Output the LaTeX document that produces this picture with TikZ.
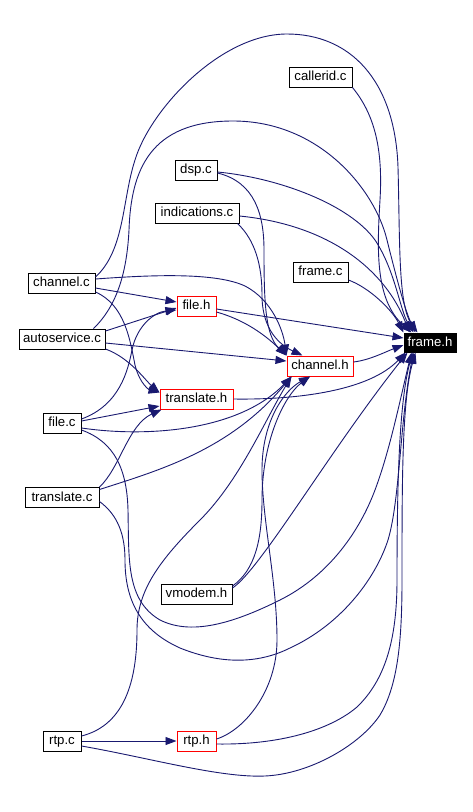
\documentclass[tikz,border=0pt]{standalone}
\usepackage{fontspec}
\setmainfont{Liberation Sans}
\usetikzlibrary{arrows.meta}
\definecolor{edgeblue}{HTML}{191970}
\begin{document}
\begin{tikzpicture}[x=1pt,y=-1pt,
  box/.style={draw=black,line width=1pt,inner sep=0pt,minimum height=20pt,font=\fontsize{13.2}{15}\selectfont,text height=9.5pt,text depth=2.5pt},
  redbox/.style={box,draw=red},
  mainbox/.style={box,fill=black,text=white,minimum height=19pt},
  edge/.style={draw=edgeblue,line width=0.9pt,-{Triangle[length=11pt,width=8pt]}}]
\path[use as bounding box,fill=white] (0,0) rectangle (473,812);
% nodes
\node[box,minimum width=63pt] (cal) at (320.5,77) {callerid.c};
\node[box,minimum width=42pt] (dsp) at (196,170) {dsp.c};
\node[box,minimum width=84pt] (ind) at (197,213) {indications.c};
\node[box,minimum width=55pt] (frc) at (320.5,272) {frame.c};
\node[box,minimum width=67pt] (chc) at (61.5,283) {channel.c};
\node[redbox,minimum width=39pt] (fih) at (196.5,306) {file.h};
\node[box,minimum width=86pt] (aus) at (62,339) {autoservice.c};
\node[mainbox,minimum width=52pt] (frh) at (430,342.5) {frame.h};
\node[redbox,minimum width=66pt] (chh) at (320,366) {channel.h};
\node[redbox,minimum width=73pt] (trh) at (196.5,399) {translate.h};
\node[box,minimum width=38pt] (fic) at (62,423) {file.c};
\node[box,minimum width=74pt] (trc) at (62,497.5) {translate.c};
\node[box,minimum width=71pt] (vmh) at (196.5,594) {vmodem.h};
\node[box,minimum width=38pt] (rtc) at (62,741) {rtp.c};
\node[redbox,minimum width=39pt] (rth) at (196.5,741) {rtp.h};
% edges
\draw[edge] (cal.south east) .. controls (375,115) and (383,150) .. (380,200) .. controls (377,250) and (375,300) .. ([xshift=8pt]frh.north west);
\draw[edge] ([xshift=-12pt]aus.north east) .. controls (118,305) and (127,270) .. (129,230) .. controls (131,170) and (150,121) .. (233,121) .. controls (320,121) and (375,190) .. (387,240) .. controls (397,280) and (405,310) .. ([xshift=12pt]frh.north west);
\draw[edge] ([yshift=6pt]chc.east) .. controls (125,250) and (122,200) .. (135,160) .. controls (150,110) and (220,34) .. (287,34) .. controls (350,34) and (395,80) .. (398,167) .. controls (400,240) and (398,305) .. ([xshift=14pt]frh.north west);
\draw[edge] ([yshift=-2pt]dsp.east) .. controls (280,178) and (350,205) .. (375,240) .. controls (395,270) and (400,310) .. ([xshift=10pt]frh.north west);
\draw[edge] ([yshift=-3pt]dsp.east) .. controls (255,182) and (264,215) .. (264,250) .. controls (264,300) and (265,335) .. (chh.north west);
\draw[edge] ([yshift=-3pt]ind.east) .. controls (330,225) and (385,270) .. ([xshift=6pt]frh.north west);
\draw[edge] ([xshift=-2pt]ind.south east) .. controls (255,240) and (262,265) .. (262,295) .. controls (262,330) and (280,345) .. ([xshift=16pt]chh.north west);
\draw[edge] ([yshift=-8pt]frc.east) .. controls (370,288) and (392,310) .. (frh.north west);
\draw[edge] ([yshift=-5pt]chc.east) -- ([yshift=4pt]fih.west);
\draw[edge] ([yshift=4pt]chc.east) .. controls (150,275) and (215,272) .. (245,286) .. controls (272,300) and (283,330) .. (chh.north west);
\draw[edge] ([yshift=-9pt]chc.east) .. controls (125,305) and (130,340) .. (135,365) .. controls (140,385) and (150,390) .. ([yshift=-4pt]trh.north west);
\draw[edge] ([yshift=8pt]aus.east) -- ([yshift=-2pt]fih.west);
\draw[edge] ([yshift=-4pt]aus.east) -- ([yshift=5pt]chh.west);
\draw[edge] ([yshift=-10pt]aus.east) .. controls (130,358) and (145,380) .. ([yshift=-4pt]trh.north west);
\draw[edge] ([yshift=4pt]fic.east) .. controls (120,405) and (128,370) .. (132,350) .. controls (137,325) and (155,312) .. ([yshift=-4pt]fih.west);
\draw[edge] ([yshift=2pt]fic.east) -- ([yshift=-7pt]trh.west);
\draw[edge] ([yshift=-5pt]fic.east) .. controls (150,438) and (240,430) .. ([xshift=5pt]chh.south west);
\draw[edge] ([yshift=-7pt]fic.east) .. controls (115,442) and (127,470) .. (128,510) .. controls (129,560) and (126,600) .. (160,620) .. controls (190,635) and (230,625) .. (280,600) .. controls (330,575) and (360,530) .. (375,490) .. controls (390,450) and (400,400) .. ([xshift=8pt]frh.south west);
\draw[edge] ([yshift=-4pt]trc.east) .. controls (118,515) and (125,535) .. (125,560) .. controls (125,600) and (140,630) .. (180,648) .. controls (210,660) and (250,668) .. (290,648) .. controls (340,625) and (375,580) .. (388,540) .. controls (400,500) and (400,420) .. ([xshift=10pt]frh.south west);
\draw[edge] ([yshift=8pt]trc.east) .. controls (160,470) and (230,450) .. ([xshift=5pt]chh.south west);
\draw[edge] (trc.north east) .. controls (120,468) and (128,425) .. ([xshift=2pt]trh.south west);
\draw[edge] (trh.east) .. controls (300,400) and (370,390) .. ([xshift=2pt]frh.south west);
\draw[edge] ([yshift=-3pt]fih.east) -- ([yshift=4.5pt]frh.west);
\draw[edge] ([yshift=-6pt]fih.east) .. controls (245,320) and (265,335) .. (chh.north west);
\draw[edge] ([yshift=4pt]chh.east) .. controls (370,360) and (385,352) .. ([yshift=-2.5pt]frh.west);
\draw[edge] ([yshift=8pt]vmh.east) .. controls (255,570) and (262,540) .. (262,500) .. controls (262,440) and (285,395) .. ([xshift=-10pt]chh.south);
\draw[edge] ([yshift=6pt]vmh.east) .. controls (260,570) and (330,450) .. ([xshift=4pt]frh.south west);
\draw[edge] ([yshift=5pt]rtc.east) .. controls (125,725) and (137,680) .. (137,630) .. controls (137,590) and (160,560) .. (200,520) .. controls (240,480) and (265,420) .. ([xshift=5pt]chh.south west);
\draw[edge] (rtc.east) -- (rth.west);
\draw[edge] ([yshift=-5pt]rtc.east) .. controls (150,758) and (220,778) .. (265,776) .. controls (310,774) and (360,745) .. (380,715) .. controls (398,685) and (402,640) .. (402,580) .. controls (402,480) and (402,400) .. ([xshift=12pt]frh.south west);
\draw[edge] ([yshift=-3pt]rth.east) .. controls (280,745) and (330,730) .. (357,707) .. controls (385,680) and (397,640) .. (397,580) .. controls (397,470) and (400,400) .. ([xshift=9pt]frh.south west);
\draw[edge] ([yshift=2pt]rth.east) .. controls (245,730) and (277,690) .. (277,640) .. controls (277,580) and (262,520) .. (262,470) .. controls (262,420) and (285,390) .. ([xshift=-10pt]chh.south);
\end{tikzpicture}
\end{document}
